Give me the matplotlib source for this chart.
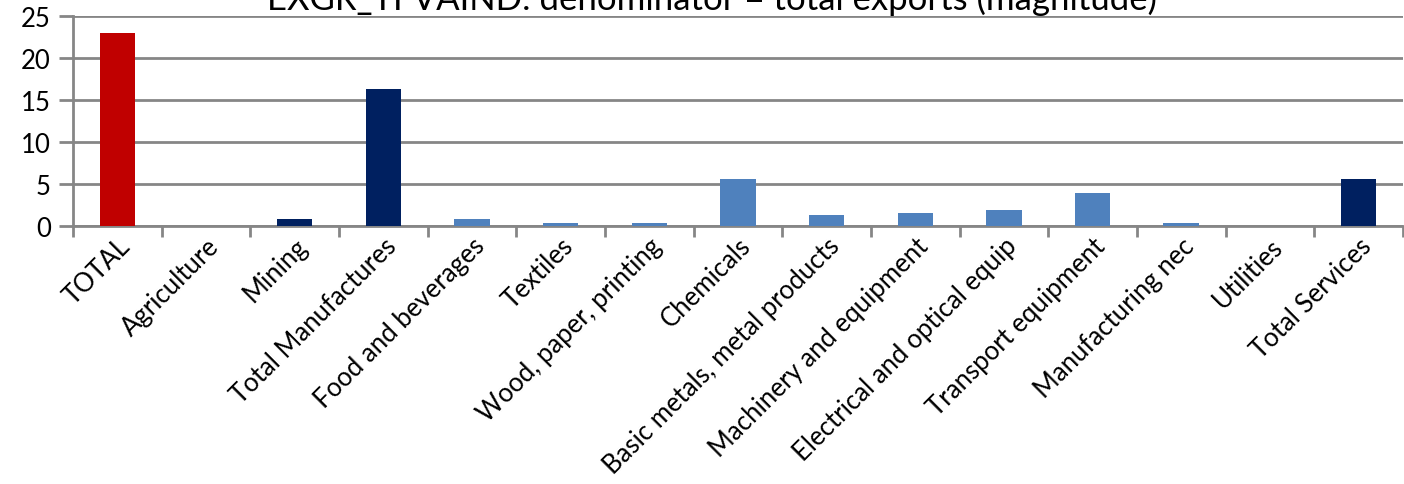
import numpy as np
import matplotlib.pyplot as plt

plt.rcParams['font.family'] = ['Lato', 'DejaVu Sans']

sectors = ["TOTAL", "Agriculture", "Mining", "Total Manufactures", "Food and beverages",
           "Textiles", "Wood, paper, printing", "Chemicals", "Basic metals, metal products",
           "Machinery and equipment", "Electrical and optical equip", "Transport equipment",
           "Manufacturing nec", "Utilities", "Total Services"]
values = [23.0, 0.0, 0.85, 16.3, 0.85, 0.35, 0.35, 5.6, 1.3, 1.6, 1.9, 3.9, 0.35, 0.0, 5.6]
kind = ["total", "agg", "agg", "agg", "sub", "sub", "sub", "sub", "sub", "sub", "sub", "sub",
        "sub", "agg", "agg"]
palette = {"total": "#C00000", "agg": "#002060", "sub": "#4F81BD"}

grey = "#868686"
fig = plt.figure(figsize=(14.04, 4.85), dpi=100)
ax = fig.add_axes([73 / 1404, 1 - 227 / 485, 1 - 73 / 1404 - 0.0008, 210 / 485])

x = np.arange(len(sectors))
ax.bar(x, values, width=0.4, color=[palette[k] for k in kind], zorder=3)

ax.set_xlim(-0.5, len(sectors) - 0.5)
ax.set_ylim(0, 25)
ax.set_yticks(range(0, 26, 5))
ax.grid(axis="y", color=grey, linewidth=2, zorder=0)

ax.set_xticks(x)
ax.set_xticklabels(sectors, rotation=45, ha="right", va="top", rotation_mode="anchor")
ax.set_xticks(np.arange(-0.5, len(sectors)), minor=True)
ax.tick_params(axis="x", which="major", length=0, pad=5, labelsize=18.5, colors="black")
ax.tick_params(axis="x", which="minor", length=8, width=2, color=grey)
ax.tick_params(axis="y", length=10, width=2, color=grey, labelsize=18.5, pad=6)

for s in ["top", "right"]:
    ax.spines[s].set_visible(False)
ax.spines["left"].set_color(grey)
ax.spines["left"].set_linewidth(2)
ax.spines["bottom"].set_color(grey)
ax.spines["bottom"].set_linewidth(2)

# title sits partly above the top edge of the figure
fig.text(712 / 1404, 1 - 10 / 485, "EXGR_TFVAIND: denominator = total exports (magnitude)",
         ha="center", va="baseline", fontsize=25)

fig.savefig("out.png", dpi=100)
